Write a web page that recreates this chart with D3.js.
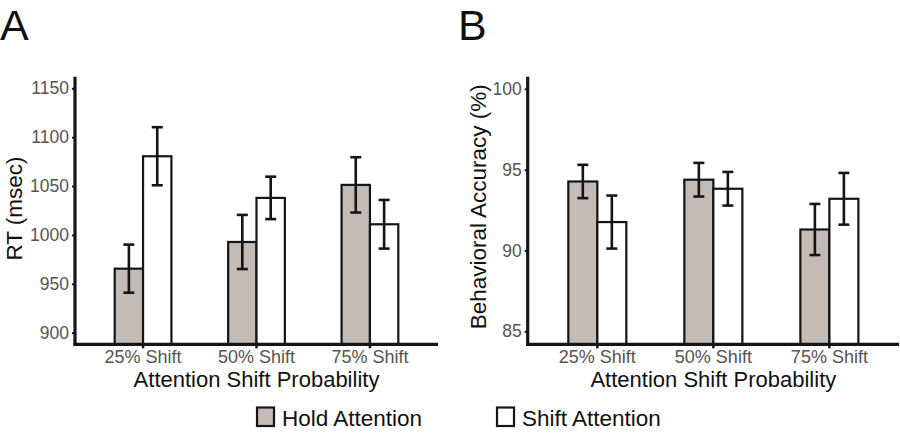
<!DOCTYPE html>
<html>
<head>
<meta charset="utf-8">
<script src="https://cdn.jsdelivr.net/npm/d3@7"></script>
<style>
  body { margin: 0; background: #fff; }
  svg { display: block; }
</style>
</head>
<body>
<svg id="chart" width="900" height="435"></svg>
<script>
// ---- data ----
const categories = ["25% Shift", "50% Shift", "75% Shift"];
const seriesNames = ["Hold Attention", "Shift Attention"];
const rtHold = [965.5, 992.8, 1051.2];
const rtHoldErr = [24.6, 27.7, 28.3];
const rtShift = [1080.5, 1037.9, 1010.9];
const rtShiftErr = [29.7, 21.7, 24.9];
const accHold = [94.27, 94.38, 91.3];
const accHoldErr = [1.03, 1.04, 1.58];
const accShift = [91.76, 93.82, 93.2];
const accShiftErr = [1.64, 1.04, 1.6];
const rtTicks = [900, 950, 1000, 1050, 1100, 1150];
const accTicks = [85, 90, 95, 100];

const fills = { "Hold Attention": "#c3bbb6", "Shift Attention": "#ffffff" };
const svg = d3.select("#chart");
const FONT = "'Liberation Sans', Arial, Helvetica, sans-serif";

function panel(opts) {
  const g = svg.append("g");
  const x = d3.scaleBand().domain(categories).range([opts.x0, opts.x1])
    .paddingInner(0.5).paddingOuter(0.35);
  const xs = d3.scaleBand().domain(seriesNames).range([0, x.bandwidth()]);
  const y = d3.scaleLinear().domain(opts.domain).range([opts.yBottom, opts.yTop]);

  const rows = [];
  categories.forEach((c, i) => {
    rows.push({ cat: c, s: seriesNames[0], v: opts.hold[i], e: opts.holdErr[i] });
    rows.push({ cat: c, s: seriesNames[1], v: opts.shift[i], e: opts.shiftErr[i] });
  });

  // bars
  g.selectAll("rect.bar").data(rows).enter().append("rect")
    .attr("class", "bar")
    .attr("x", d => x(d.cat) + xs(d.s))
    .attr("width", xs.bandwidth())
    .attr("y", d => y(d.v))
    .attr("height", d => opts.yBottom - y(d.v))
    .attr("fill", d => fills[d.s])
    .attr("stroke", "#151515")
    .attr("stroke-width", 2.2);

  // error bars
  const eb = g.selectAll("g.err").data(rows).enter().append("g")
    .attr("class", "err")
    .attr("stroke", "#151515").attr("stroke-width", 2.6).attr("fill", "none");
  const cx = d => x(d.cat) + xs(d.s) + xs.bandwidth() / 2;
  eb.append("line").attr("x1", cx).attr("x2", cx)
    .attr("y1", d => y(d.v + d.e)).attr("y2", d => y(d.v - d.e));
  eb.append("line").attr("x1", d => cx(d) - 5.5).attr("x2", d => cx(d) + 5.5)
    .attr("y1", d => y(d.v + d.e)).attr("y2", d => y(d.v + d.e));
  eb.append("line").attr("x1", d => cx(d) - 5.5).attr("x2", d => cx(d) + 5.5)
    .attr("y1", d => y(d.v - d.e)).attr("y2", d => y(d.v - d.e));

  // y axis
  const ya = g.append("g").attr("transform", `translate(${opts.x0},0)`)
    .call(d3.axisLeft(y).tickValues(opts.ticks).tickFormat(d3.format("d")).tickSize(3).tickPadding(3));
  ya.select(".domain").remove();
  ya.selectAll(".tick line").attr("stroke", "#151515").attr("stroke-width", 2);
  ya.selectAll(".tick text").attr("fill", "#575350")
    .style("font-family", FONT).style("font-size", "17.5px");
  g.append("line").attr("x1", opts.x0).attr("x2", opts.x0)
    .attr("y1", opts.yTop).attr("y2", opts.yBottom + 1.5)
    .attr("stroke", "#151515").attr("stroke-width", 3.2);

  // x axis
  const xa = g.append("g").attr("transform", `translate(0,${opts.yBottom})`)
    .call(d3.axisBottom(x).tickSize(4).tickPadding(2));
  xa.select(".domain").remove();
  xa.selectAll(".tick line").attr("stroke", "#151515").attr("stroke-width", 2.5);
  xa.selectAll(".tick text").attr("fill", "#575350")
    .style("font-family", FONT).style("font-size", "18px");
  g.append("line").attr("x1", opts.x0 - 1.5).attr("x2", opts.x1)
    .attr("y1", opts.yBottom).attr("y2", opts.yBottom)
    .attr("stroke", "#151515").attr("stroke-width", 3.2);

  // titles
  g.append("text").attr("x", (opts.x0 + opts.x1) / 2).attr("y", 386.5)
    .attr("text-anchor", "middle").attr("fill", "#111")
    .style("font-family", FONT).style("font-size", "22px")
    .text("Attention Shift Probability");
  g.append("text")
    .attr("transform", `translate(${opts.ytx},${opts.ytyc}) rotate(-90)`)
    .attr("text-anchor", "middle").attr("fill", "#111")
    .style("font-family", FONT).style("font-size", "22.5px")
    .text(opts.ytitle);
  g.append("text").attr("x", opts.lx).attr("y", 40)
    .attr("fill", "#111")
    .style("font-family", FONT).style("font-size", "43px")
    .text(opts.letter);
}

panel({
  x0: 75, x1: 438, yTop: 76.7, yBottom: 344.3, domain: [888.1, 1161.9],
  hold: rtHold, holdErr: rtHoldErr, shift: rtShift, shiftErr: rtShiftErr,
  ticks: rtTicks, ytitle: "RT (msec)", ytx: 21.5, ytyc: 208.5, letter: "A", lx: 0
});
panel({
  x0: 527.7, x1: 899, yTop: 76.7, yBottom: 344.3, domain: [84.2, 100.75],
  hold: accHold, holdErr: accHoldErr, shift: accShift, shiftErr: accShiftErr,
  ticks: accTicks, ytitle: "Behavioral Accuracy (%)", ytx: 486, ytyc: 206.7, letter: "B", lx: 458
});

// legend
const legendX = [257, 497];
const lg = svg.selectAll("g.leg").data(seriesNames).enter().append("g")
  .attr("class", "leg").attr("transform", (d, i) => `translate(${legendX[i]},407.5)`);
lg.append("rect").attr("width", 17).attr("height", 18.5)
  .attr("fill", d => fills[d]).attr("stroke", "#151515").attr("stroke-width", 2.2);
lg.append("text").attr("x", 25).attr("y", 18.5)
  .attr("fill", "#111").style("font-family", FONT).style("font-size", "22.5px")
  .text(d => d);
</script>
</body>
</html>
